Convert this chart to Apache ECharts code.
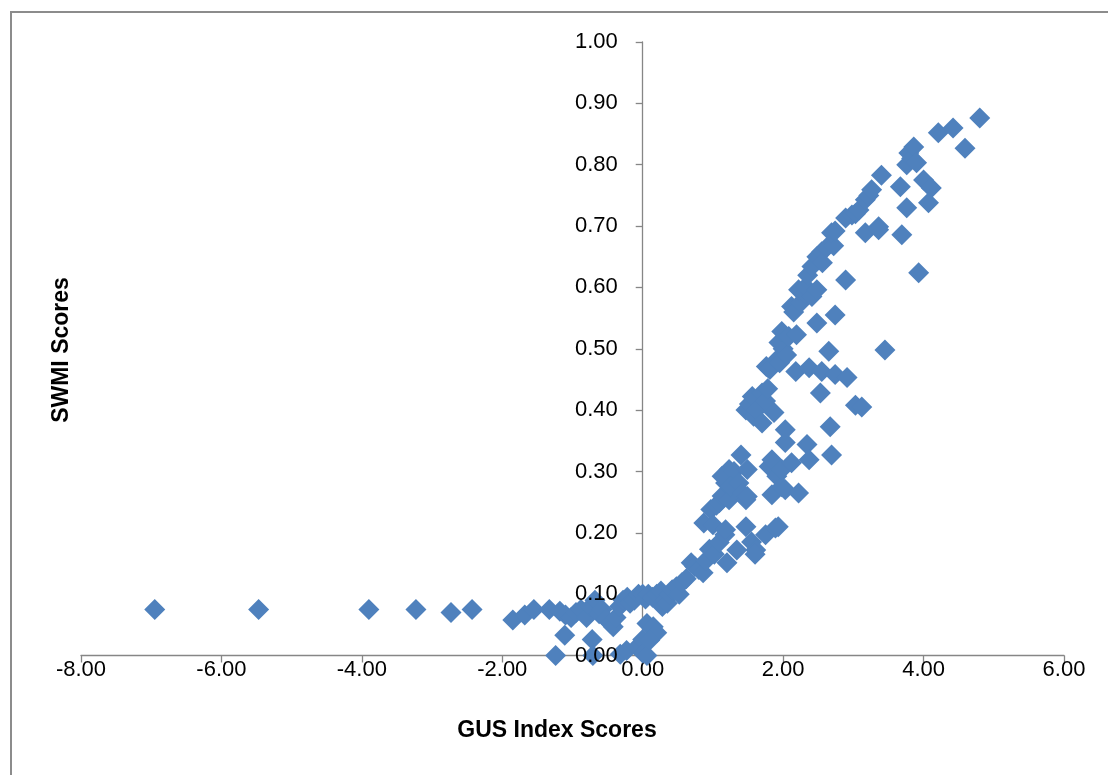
<!DOCTYPE html>
<html>
<head>
<meta charset="utf-8">
<script src="https://cdn.jsdelivr.net/npm/echarts@6/dist/echarts.min.js"></script>
<style>html,body{margin:0;padding:0;background:#fff;}#chart{width:1108px;height:775px;}</style>
</head>
<body>
<div id="chart"></div>
<script>
// GUS Index Scores (x) vs SWMI Scores (y)
const leftTail = [
  [-6.95,0.075],[-5.47,0.075],[-3.90,0.075],[-3.23,0.075],[-2.73,0.070],[-2.43,0.075],
  [-1.85,0.058],[-1.68,0.066],[-1.55,0.075],[-1.33,0.075],[-1.18,0.072],[-1.10,0.066]
];
const nearZero = [
  [-1.24,0.000],[-1.11,0.033],[-0.72,0.026],[-0.71,0.000],[-0.32,0.002],[-0.23,0.008],
  [-0.08,0.014],[0.00,0.026],[0.00,0.004],[0.06,0.000],[0.06,0.052],[0.15,0.047],[0.20,0.037],[0.10,0.025],
  [-1.02,0.062],[-0.95,0.070],[-0.88,0.075],[-0.80,0.062],[-0.74,0.080],[-0.68,0.090],[-0.62,0.068],
  [-0.58,0.075],[-0.52,0.060],[-0.46,0.052],[-0.42,0.047],[-0.38,0.062],[-0.33,0.080],[-0.28,0.090],
  [-0.22,0.095],[-0.18,0.085],[-0.12,0.090],[-0.06,0.100],[0.00,0.100],[0.04,0.092]
];
const risingBand = [
  [0.08,0.100],[0.14,0.095],[0.20,0.100],[0.26,0.105],[0.28,0.080],[0.32,0.090],[0.35,0.085],[0.38,0.100],
  [0.42,0.107],[0.48,0.112],[0.52,0.100],[0.56,0.119],[0.62,0.125],[0.69,0.151],[0.74,0.145],[0.80,0.140],
  [0.86,0.135],[0.90,0.155],[0.95,0.173],[1.02,0.165],[1.09,0.184],[1.17,0.197],[0.87,0.216],[0.97,0.238],
  [1.00,0.213],[1.05,0.245],[1.09,0.249],[1.13,0.260],[1.18,0.205],[1.18,0.281],[1.20,0.151],[1.23,0.254],
  [1.23,0.303],[1.13,0.292],[1.30,0.300],[1.25,0.275],[1.34,0.172],[1.37,0.281],[1.40,0.327],[1.42,0.265],
  [1.47,0.254],[1.47,0.210],[1.49,0.303],[1.49,0.259],[1.55,0.185],[1.61,0.172],[1.60,0.165],[1.75,0.197],
  [1.80,0.308],[1.84,0.319],[1.84,0.262],[1.89,0.208],[1.93,0.210],[1.91,0.292],[1.98,0.275],[1.98,0.303],
  [2.03,0.270],[2.03,0.347],[2.12,0.314],[2.22,0.265],[2.34,0.344],[2.37,0.319],[2.69,0.327]
];
const middleBand = [
  [1.47,0.400],[1.52,0.410],[1.56,0.422],[1.58,0.390],[1.62,0.400],[1.70,0.379],[1.70,0.428],[1.75,0.415],
  [1.78,0.435],[1.87,0.396],[2.03,0.368],[2.67,0.373],[1.76,0.471],[1.81,0.466],[1.91,0.482],[1.95,0.477],
  [2.00,0.500],[2.05,0.490],[1.94,0.510],[1.98,0.528],[2.08,0.520],[2.19,0.523]
];
const lowerBranch = [
  [2.18,0.463],[2.37,0.469],[2.55,0.463],[2.74,0.458],[2.91,0.453],[2.53,0.428],[3.03,0.408],[3.12,0.405],
  [2.65,0.496],[3.45,0.498],[2.48,0.542],[2.74,0.555],[2.89,0.612],[3.93,0.624]
];
const upperBranch = [
  [2.12,0.569],[2.15,0.560],[2.25,0.575],[2.22,0.596],[2.30,0.590],[2.32,0.601],[2.41,0.585],[2.48,0.596],
  [2.35,0.620],[2.41,0.634],[2.48,0.650],[2.55,0.658],[2.56,0.640],[2.62,0.665],[2.72,0.668],[2.69,0.689],
  [2.74,0.692],[2.89,0.713],[2.98,0.718],[3.03,0.720],[3.08,0.726],[3.17,0.743],[3.22,0.750],[3.26,0.759],
  [3.17,0.689],[3.36,0.699],[3.36,0.694],[3.40,0.783],[3.67,0.764],[3.76,0.730],[3.69,0.686],[3.76,0.800],
  [3.79,0.819],[3.83,0.810],[3.86,0.829],[3.90,0.803],[4.00,0.775],[4.11,0.762],[4.07,0.738],[4.21,0.852],
  [4.42,0.860],[4.59,0.827],[4.80,0.876]
];
const points = [].concat(leftTail, nearZero, risingBand, middleBand, lowerBranch, upperBranch);

const xTitle = 'GUS Index Scores';
const yTitle = 'SWMI Scores';
const FONT = 'Liberation Sans';
const AXIS_COLOR = '#868686';

const X_MIN = -8, X_MAX = 6;
const GRID = { left: 81, right: 44, top: 42, bottom: 119.5 };
const CHART_W = 1108;
const gridW = CHART_W - GRID.left - GRID.right;
// y axis crosses the x axis at x = 0: shift it inward from the grid's left edge
const yOffset = -((0 - X_MIN) / (X_MAX - X_MIN)) * gridW;

const chart = echarts.init(document.getElementById('chart'));
const yBase = {
  type: 'value', min: 0, max: 1, interval: 0.1, position: 'left', offset: yOffset,
  splitLine: { show: false }
};
chart.setOption({
  animation: false,
  backgroundColor: '#fff',
  grid: Object.assign({ containLabel: false }, GRID),
  xAxis: {
    type: 'value', min: X_MIN, max: X_MAX, interval: 2,
    splitLine: { show: false },
    axisLine: { show: true, onZero: false, lineStyle: { color: AXIS_COLOR, width: 1.3 } },
    axisTick: { show: true, length: 7, lineStyle: { color: AXIS_COLOR, width: 1.3 } },
    axisLabel: { margin: 3, color: '#000', fontFamily: FONT, fontSize: 22, formatter: v => v.toFixed(2) }
  },
  yAxis: [
    Object.assign({}, yBase, {
      z: 0,
      axisLine: { show: true, onZero: false, lineStyle: { color: AXIS_COLOR, width: 1.3 } },
      axisTick: { show: true, length: 7, lineStyle: { color: AXIS_COLOR, width: 1.3 } },
      axisLabel: { show: false }
    }),
    Object.assign({}, yBase, {
      z: 10,
      axisLine: { show: false, onZero: false },
      axisTick: { show: false },
      axisLabel: { margin: 25, color: '#000', fontFamily: FONT, fontSize: 22, formatter: v => v.toFixed(2) }
    })
  ],
  series: [{
    type: 'scatter',
    yAxisIndex: 0,
    symbol: 'diamond',
    symbolSize: 21,
    itemStyle: { color: '#4F81BD', opacity: 1 },
    data: points
  }],
  graphic: [
    { type: 'rect', silent: true, shape: { x: 11, y: 12, width: 1300, height: 900 },
      style: { fill: 'none', stroke: '#8c8c8c', lineWidth: 2 } },
    { type: 'text', x: 557, y: 731, silent: true,
      style: { text: xTitle, font: 'bold 23px "Liberation Sans"', fill: '#000', textAlign: 'center', textVerticalAlign: 'middle' } },
    { type: 'text', x: 62, y: 350, rotation: Math.PI / 2, silent: true,
      style: { text: yTitle, font: 'bold 23px "Liberation Sans"', fill: '#000', textAlign: 'center', textVerticalAlign: 'middle' } }
  ]
});
</script>
</body>
</html>
